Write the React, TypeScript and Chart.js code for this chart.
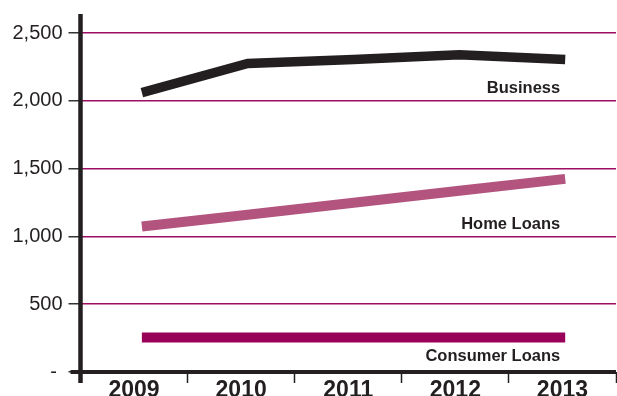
import React, { useEffect, useRef } from "react";
import { Chart, registerables } from "chart.js";

Chart.register(...registerables);

const years = ["2009", "2010", "2011", "2012", "2013"];
const business = [2060, 2275, 2305, 2340, 2305];
const homeLoans = [1073, 1160, 1248, 1336, 1424];
const consumerLoans = [255, 255, 255, 255, 255];
const seriesNames = ["Business", "Home Loans", "Consumer Loans"];
const seriesLabelValues = [2094, 1091, 118];
const yTicks = [0, 500, 1000, 1500, 2000, 2500];

const INK = "#231f20";
const GRID = "#9e0f63";

const toPoints = (arr: number[]) => arr.map((v, i) => ({ x: i, y: v }));

const axesPlugin = {
  id: "customAxes",
  afterDraw(chart: any) {
    const { ctx, chartArea } = chart;
    const { left, right, top, bottom } = chartArea;
    ctx.save();
    ctx.strokeStyle = INK;
    ctx.lineCap = "butt";
    ctx.lineWidth = 4.5;
    ctx.beginPath();
    ctx.moveTo(left, top);
    ctx.lineTo(left, bottom + 11);
    ctx.stroke();
    ctx.lineWidth = 4;
    ctx.beginPath();
    ctx.moveTo(left - 10, bottom);
    ctx.lineTo(right, bottom);
    ctx.stroke();
    ctx.restore();
  },
};

const seriesLabelPlugin = {
  id: "seriesLabels",
  afterDatasetsDraw(chart: any) {
    const { ctx } = chart;
    const xs = chart.scales.x2;
    const ys = chart.scales.y;
    ctx.save();
    ctx.font = "bold 16.5px 'Liberation Sans', Arial, sans-serif";
    ctx.fillStyle = INK;
    ctx.textAlign = "right";
    ctx.textBaseline = "middle";
    seriesNames.forEach((name, i) => {
      const x = xs.getPixelForValue(years.length - 1) - 5;
      const y = ys.getPixelForValue(seriesLabelValues[i]);
      ctx.fillText(name, x, y);
    });
    ctx.restore();
  },
};

export default function App() {
  const ref = useRef<HTMLCanvasElement | null>(null);

  useEffect(() => {
    document.body.style.margin = "0";
    const canvas = ref.current;
    if (!canvas) return;
    const chart = new Chart(canvas, {
      type: "line",
      data: {
        labels: years,
        datasets: [
          {
            label: seriesNames[0],
            data: toPoints(business),
            xAxisID: "x2",
            borderColor: INK,
            borderWidth: 9.5,
            borderJoinStyle: "miter",
            pointRadius: 0,
            tension: 0,
          },
          {
            label: seriesNames[1],
            data: toPoints(homeLoans),
            xAxisID: "x2",
            borderColor: "#b3547f",
            borderWidth: 10,
            pointRadius: 0,
            tension: 0,
          },
          {
            label: seriesNames[2],
            data: toPoints(consumerLoans),
            xAxisID: "x2",
            borderColor: "#990057",
            borderWidth: 10,
            pointRadius: 0,
            tension: 0,
          },
        ],
      },
      options: {
        responsive: false,
        animation: false,
        devicePixelRatio: 1,
        layout: { padding: { top: 14, right: 1, left: 0, bottom: 0 } },
        plugins: {
          legend: { display: false },
          tooltip: { enabled: false },
        },
        scales: {
          x: {
            type: "category",
            offset: true,
            border: { display: false },
            grid: {
              display: true,
              offset: true,
              drawOnChartArea: false,
              drawTicks: true,
              tickLength: 11,
              tickColor: INK,
              tickWidth: 1.5,
            },
            ticks: {
              color: INK,
              padding: -6,
              maxRotation: 0,
              font: { family: "'Liberation Sans', Arial, sans-serif", size: 23, weight: "bold" },
            },
            afterFit(scale: any) {
              scale.height = 24;
              scale.paddingLeft = 0;
              scale.paddingRight = 0;
            },
          },
          x2: {
            type: "linear",
            display: false,
            min: -0.58,
            max: 4.48,
          },
          y: {
            min: 0,
            max: 2640,
            border: { display: false },
            grid: {
              color: GRID,
              lineWidth: 1.5,
              tickColor: "#333",
              tickWidth: 1.5,
              tickLength: 12,
            },
            ticks: {
              stepSize: 500,
              includeBounds: false,
              color: INK,
              padding: 6,
              font: { family: "'Liberation Sans', Arial, sans-serif", size: 20 },
              callback: (v: any) => (Number(v) === 0 ? "- " : Number(v).toLocaleString("en-US")),
            },
            afterBuildTicks(scale: any) {
              scale.ticks = yTicks.map((v) => ({ value: v }));
            },
            afterFit(scale: any) {
              scale.width = 80.5;
              scale.paddingTop = 0;
              scale.paddingBottom = 0;
            },
          },
        },
      },
      plugins: [axesPlugin, seriesLabelPlugin],
    });
    return () => chart.destroy();
  }, []);

  return (
    <div style={{ width: 617, height: 396 }}>
      <canvas ref={ref} width={617} height={396} style={{ display: "block" }} />
    </div>
  );
}
